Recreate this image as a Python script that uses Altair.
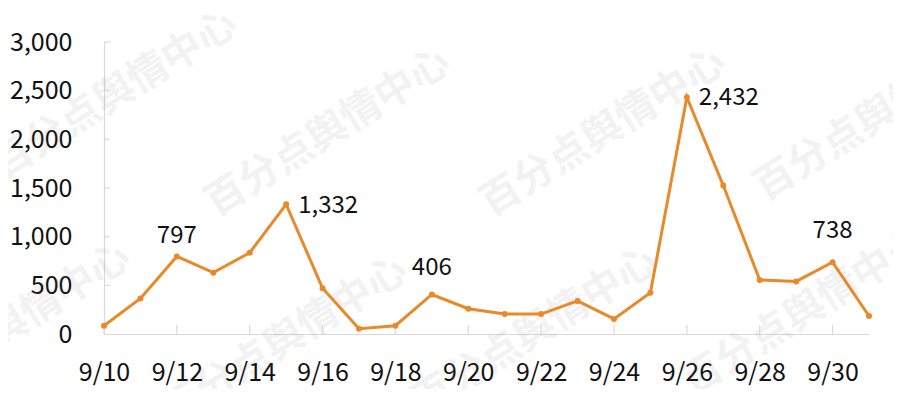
import altair as alt
import pandas as pd

# ---- data ----
dates = ["9/10", "9/11", "9/12", "9/13", "9/14", "9/15", "9/16", "9/17", "9/18", "9/19",
         "9/20", "9/21", "9/22", "9/23", "9/24", "9/25", "9/26", "9/27", "9/28", "9/29",
         "9/30", "10/1"]
values = [85, 365, 797, 630, 835, 1332, 470, 55, 85, 406,
          260, 205, 205, 340, 155, 425, 2432, 1525, 555, 540,
          738, 185]
tick_dates = ["9/10", "9/12", "9/14", "9/16", "9/18", "9/20", "9/22", "9/24", "9/26", "9/28", "9/30"]
y_ticks = [500, 1000, 1500, 2000, 2500, 3000]
labeled_dates = ["9/12", "9/15", "9/19", "9/26", "9/30"]
watermark = "百分点舆情中心"

df = pd.DataFrame({"date": dates, "value": values})

W, H = 765, 292
ORANGE = "#E8892A"
GRAY = "#d9d9d9"
FONT = "Noto Sans CJK SC"

xenc = alt.X("date:N", sort=dates,
             scale=alt.Scale(type="point", domain=dates, padding=0),
             axis=alt.Axis(values=tick_dates, title=None, labelAngle=0,
                           labelFontSize=25, labelFont=FONT, labelColor="#111",
                           labelPadding=26, labelBaseline="top",
                           ticks=False, tickSize=0, grid=False,
                           domainColor=GRAY, domainWidth=1.2))
yscale = alt.Scale(domain=[0, 3000], nice=False, zero=True)
yenc = alt.Y("value:Q", scale=yscale,
             axis=alt.Axis(values=[0] + y_ticks, format=",.0f", title=None,
                           labelFontSize=25, labelFont=FONT, labelColor="#111",
                           labelPadding=32, ticks=False, tickSize=0, grid=False,
                           domainColor=GRAY, domainWidth=1.2))

# watermark copies (decoration, pixel positions relative to plot origin)
wm_pos = [(115, 95), (328, 133), (603, 133), (877, 117),
          (8, 328), (285, 341), (535, 332), (805, 312)]
wm_layers = []
for px, py in wm_pos:
    wm_layers.append(
        alt.Chart(pd.DataFrame({"t": [watermark]})).mark_text(
            x=px - 104, y=py - 42, angle=328, fontSize=40, font=FONT,
            fontWeight="bold", color="#777777", opacity=0.09,
            align="center", baseline="middle"
        ).encode(text="t:N")
    )

ytick_layer = alt.Chart(pd.DataFrame({"value": y_ticks})).mark_rule(
    color=GRAY, strokeWidth=1.2
).encode(y=yenc, x=alt.value(0), x2=alt.value(6))

xtick_layer = alt.Chart(pd.DataFrame({"date": tick_dates})).mark_rule(
    color=GRAY, strokeWidth=1.2
).encode(x=xenc, y=alt.value(H - 9), y2=alt.value(H))

line = alt.Chart(df).mark_line(
    color=ORANGE, strokeWidth=3,
    point=alt.OverlayMarkDef(filled=True, size=36, color=ORANGE)
).encode(x=xenc, y=yenc)

# annotation placement: (date, align, dx, dy)
ann = [("9/12", "center", 0, -13), ("9/15", "left", 12, 9), ("9/19", "center", 0, -19),
       ("9/26", "left", 12, 8), ("9/30", "center", 0, -24)]
ann_layers = []
for d, al, dx, dy in ann:
    ann_layers.append(
        alt.Chart(df).transform_filter(alt.datum.date == d).mark_text(
            align=al, baseline="alphabetic", dx=dx, dy=dy, fontSize=24,
            font=FONT, color="#111"
        ).encode(x=xenc, y=yenc, text=alt.Text("value:Q", format=","))
    )

chart = alt.layer(*wm_layers, ytick_layer, xtick_layer, line, *ann_layers).properties(
    width=W, height=H,
    autosize=alt.AutoSizeParams(type="none"),
    padding={"left": 96, "top": 34, "right": 24, "bottom": 55},
    background="white"
).configure_view(stroke=None)

chart.save("out.html", embed_options={"renderer": "svg", "actions": False})
